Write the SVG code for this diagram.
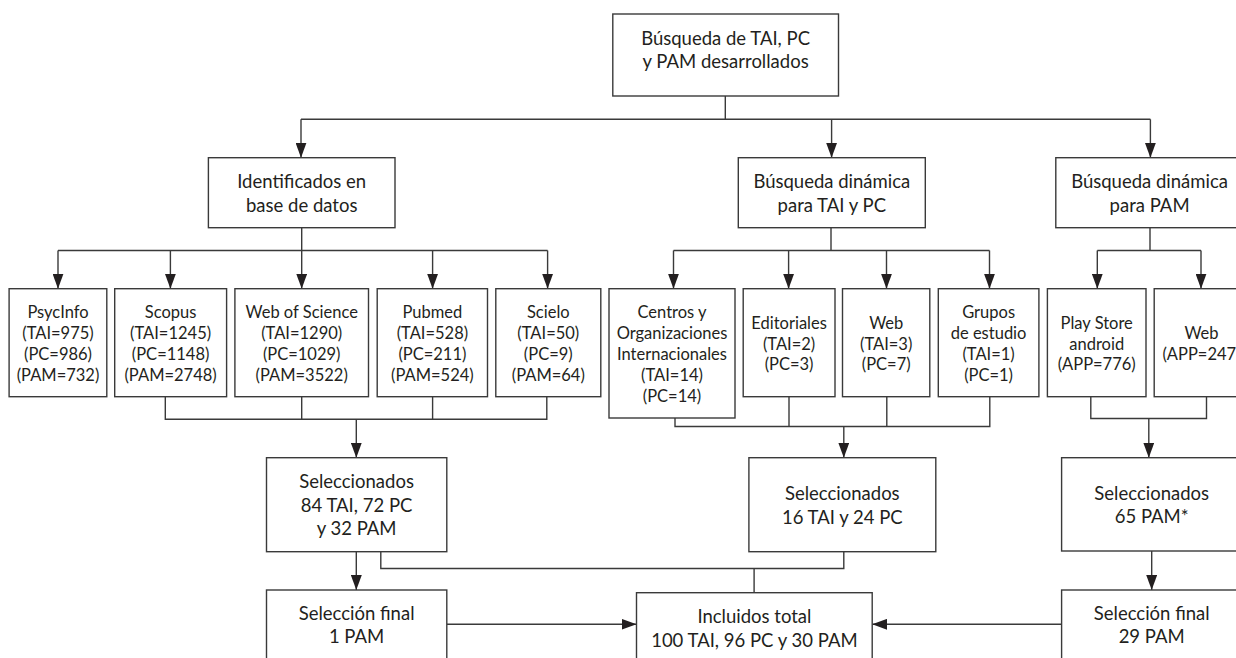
<svg xmlns="http://www.w3.org/2000/svg" width="1236" height="658" viewBox="0 0 1236 658">
<style>
.box{fill:#fff;stroke:#3a3a3a;stroke-width:1.4}
.ln{fill:none;stroke:#3a3a3a;stroke-width:1.4}
.ar{fill:none;stroke:#3a3a3a;stroke-width:1.4;marker-end:url(#ah)}
text{font-family:Lato,"Open Sans","Liberation Sans",sans-serif;font-size:18.5px;fill:#231f20;text-anchor:middle}
.s text{font-size:16.5px}
</style>
<defs>
<marker id="ah" viewBox="0 0 15 11" refX="15" refY="5.5" markerWidth="15" markerHeight="11" markerUnits="userSpaceOnUse" orient="auto">
<path d="M0,0 L15,5.5 L0,11 z" fill="#231f20"/>
</marker>
</defs>
<rect width="1236" height="658" fill="#fff"/>
<g id="connectors">
<path class="ln" d="M725.3,96 V119.3 M301,119.3 H1150.4"/>
<path class="ar" d="M301,119.3 V157.7"/>
<path class="ar" d="M831.6,119.3 V157.7"/>
<path class="ar" d="M1150.4,119.3 V157.7"/>
<path class="ln" d="M301.7,227.7 V250.5 M58,250.5 H547.6"/>
<path class="ar" d="M58,250.5 V288.7"/>
<path class="ar" d="M170.4,250.5 V288.7"/>
<path class="ar" d="M301.7,250.5 V288.7"/>
<path class="ar" d="M432.6,250.5 V288.7"/>
<path class="ar" d="M547.6,250.5 V288.7"/>
<path class="ln" d="M831,227.7 V250.5 M673.5,250.5 H989.5"/>
<path class="ar" d="M673.5,250.5 V288.7"/>
<path class="ar" d="M788.6,250.5 V288.7"/>
<path class="ar" d="M886.5,250.5 V288.7"/>
<path class="ar" d="M989.5,250.5 V288.7"/>
<path class="ln" d="M1150,227.7 V250.5 M1097.3,250.5 H1201"/>
<path class="ar" d="M1097.3,250.5 V288.7"/>
<path class="ar" d="M1201,250.5 V288.7"/>
<path class="ln" d="M165.3,396.7 V419.3 H546.8 V396.7 M301.7,396.7 V419.3 M432.6,396.7 V419.3"/>
<path class="ar" d="M356.3,419.3 V457.7"/>
<path class="ln" d="M675,418 V426.5 H989.8 V396.7 M789,396.7 V426.5 M886.8,396.7 V426.5"/>
<path class="ar" d="M843.8,426.5 V457.7"/>
<path class="ln" d="M1090.8,396.7 V418.5 H1206.5 V396.7"/>
<path class="ar" d="M1148.8,418.5 V457.7"/>
<path class="ar" d="M356.3,551.7 V590"/>
<path class="ar" d="M1151.7,551 V590"/>
<path class="ln" d="M380.8,551.7 V568.5 H843.8 V551.7 M754.1,568.5 V592.7"/>
<path class="ar" d="M446.8,624.3 H636.5"/>
<path class="ar" d="M1061.6,624.3 H872.2"/>
</g>
<g id="n-top"><rect class="box" x="612.8" y="14" width="225.7" height="82"/><text x="725.6" y="44.5">Búsqueda de TAI, PC</text><text x="725.6" y="67.8">y PAM desarrollados</text></g>
<g id="n-ident"><rect class="box" x="208.4" y="157.7" width="186.6" height="70"/><text x="301.7" y="188.3">Identificados en</text><text x="301.7" y="212.3">base de datos</text></g>
<g id="n-bdtp"><rect class="box" x="738.3" y="157.7" width="187" height="70"/><text x="831.8" y="188.3">Búsqueda dinámica</text><text x="831.8" y="212.3">para TAI y PC</text></g>
<g id="n-bdpam"><rect class="box" x="1055.8" y="157.7" width="188" height="70"/><text x="1149.6" y="188.3">Búsqueda dinámica</text><text x="1149.6" y="212.3">para PAM</text></g>
<g id="n-psyc" class="s"><rect class="box" x="9.1" y="288.7" width="97.7" height="108"/><text x="58" y="318.3">PsycInfo</text><text x="58" y="339.1">(TAI=975)</text><text x="58" y="359.9">(PC=986)</text><text x="58" y="380.7">(PAM=732)</text></g>
<g id="n-scopus" class="s"><rect class="box" x="114.7" y="288.7" width="111.9" height="108"/><text x="170.6" y="318.3">Scopus</text><text x="170.6" y="339.1">(TAI=1245)</text><text x="170.6" y="359.9">(PC=1148)</text><text x="170.6" y="380.7">(PAM=2748)</text></g>
<g id="n-wos" class="s"><rect class="box" x="234.9" y="288.7" width="133.6" height="108"/><text x="301.7" y="318.3">Web of Science</text><text x="301.7" y="339.1">(TAI=1290)</text><text x="301.7" y="359.9">(PC=1029)</text><text x="301.7" y="380.7">(PAM=3522)</text></g>
<g id="n-pubmed" class="s"><rect class="box" x="377.2" y="288.7" width="110.3" height="108"/><text x="432.4" y="318.3">Pubmed</text><text x="432.4" y="339.1">(TAI=528)</text><text x="432.4" y="359.9">(PC=211)</text><text x="432.4" y="380.7">(PAM=524)</text></g>
<g id="n-scielo" class="s"><rect class="box" x="495.8" y="288.7" width="105" height="108"/><text x="548.3" y="318.3">Scielo</text><text x="548.3" y="339.1">(TAI=50)</text><text x="548.3" y="359.9">(PC=9)</text><text x="548.3" y="380.7">(PAM=64)</text></g>
<g id="n-centros" class="s"><rect class="box" x="609" y="288.7" width="126" height="129.3"/><text x="672" y="318.3">Centros y</text><text x="672" y="339.1">Organizaciones</text><text x="672" y="359.9">Internacionales</text><text x="672" y="380.7">(TAI=14)</text><text x="672" y="401.5">(PC=14)</text></g>
<g id="n-edit" class="s"><rect class="box" x="743.2" y="288.7" width="91.8" height="108"/><text x="789.1" y="328.7">Editoriales</text><text x="789.1" y="349.5">(TAI=2)</text><text x="789.1" y="370.3">(PC=3)</text></g>
<g id="n-web1" class="s"><rect class="box" x="842.5" y="288.7" width="87.3" height="108"/><text x="886.2" y="328.7">Web</text><text x="886.2" y="349.5">(TAI=3)</text><text x="886.2" y="370.3">(PC=7)</text></g>
<g id="n-grupos" class="s"><rect class="box" x="938.3" y="288.7" width="100.6" height="108"/><text x="988.6" y="318.3">Grupos</text><text x="988.6" y="339.1">de estudio</text><text x="988.6" y="359.9">(TAI=1)</text><text x="988.6" y="380.7">(PC=1)</text></g>
<g id="n-play" class="s"><rect class="box" x="1047.4" y="288.7" width="98.6" height="108"/><text x="1096.7" y="328.7">Play Store</text><text x="1096.7" y="349.5">android</text><text x="1096.7" y="370.3">(APP=776)</text></g>
<g id="n-web2" class="s"><rect class="box" x="1154.2" y="288.7" width="95" height="108"/><text x="1201.5" y="339.1">Web</text><text x="1201.5" y="359.9">(APP=247)</text></g>
<g id="n-sel1"><rect class="box" x="266.5" y="457.7" width="180.3" height="94"/><text x="356.6" y="488.3">Seleccionados</text><text x="356.6" y="511.7">84 TAI, 72 PC</text><text x="356.6" y="535">y 32 PAM</text></g>
<g id="n-sel2"><rect class="box" x="748.9" y="457.7" width="186.9" height="94"/><text x="842.3" y="500">Seleccionados</text><text x="842.3" y="524">16 TAI y 24 PC</text></g>
<g id="n-sel3"><rect class="box" x="1061.6" y="457.7" width="180.4" height="93.3"/><text x="1151.7" y="500">Seleccionados</text><text x="1151.7" y="523.3">65 PAM*</text></g>
<g id="n-fin1"><rect class="box" x="266.5" y="590" width="180.3" height="90"/><text x="356.6" y="620">Selección final</text><text x="356.6" y="643.3">1 PAM</text></g>
<g id="n-incl"><rect class="box" x="636.5" y="592.7" width="235.7" height="90"/><text x="754.4" y="623.3">Incluidos total</text><text x="754.4" y="646.7">100 TAI, 96 PC y 30 PAM</text></g>
<g id="n-fin3"><rect class="box" x="1061.6" y="590" width="180.4" height="90"/><text x="1151.7" y="620">Selección final</text><text x="1151.7" y="643.3">29 PAM</text></g>
</svg>
